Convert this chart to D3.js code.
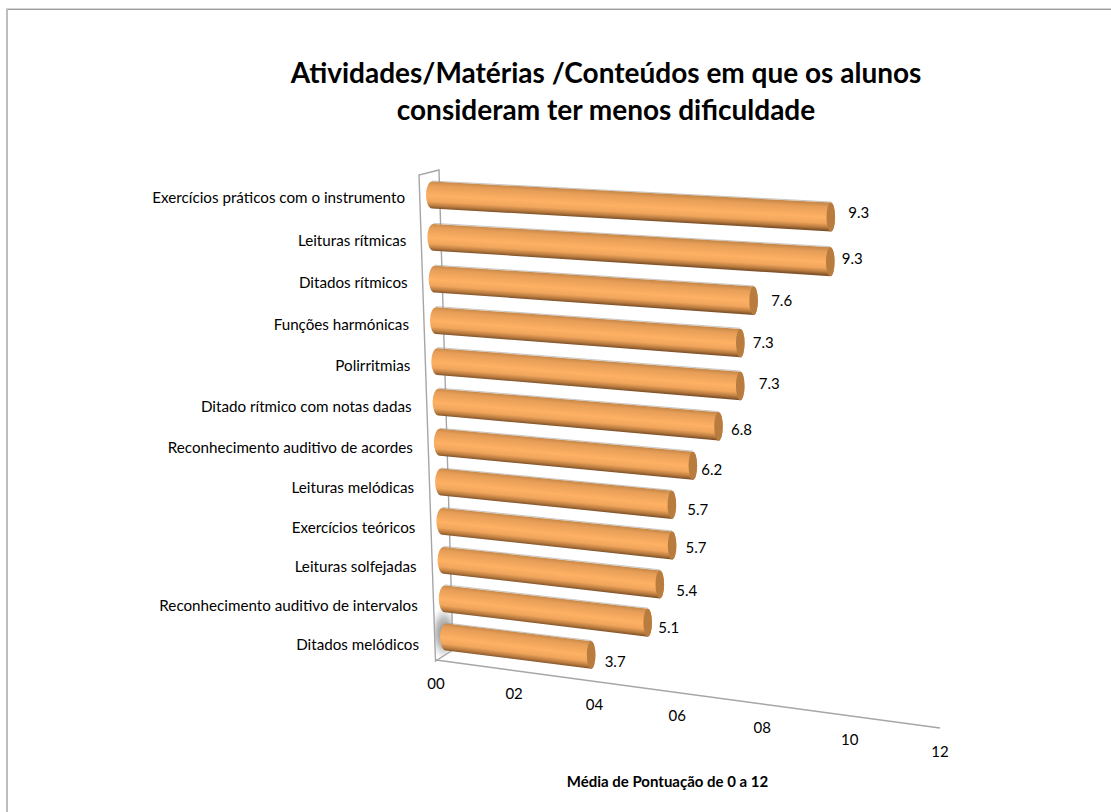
<!DOCTYPE html>
<html lang="pt">
<head>
<meta charset="utf-8">
<script src="https://cdnjs.cloudflare.com/ajax/libs/d3/7.8.5/d3.min.js"></script>
<style>
html,body{margin:0;padding:0;background:#fff}
svg{display:block}
text{font-family:Lato,"Open Sans",sans-serif;fill:#000}
</style>
</head>
<body>
<script>
// Activities ranked by mean score, top to bottom
const categories = [
  "Exercícios práticos com o instrumento",
  "Leituras rítmicas",
  "Ditados rítmicos",
  "Funções harmónicas",
  "Polirritmias",
  "Ditado rítmico com notas dadas",
  "Reconhecimento auditivo de acordes",
  "Leituras melódicas",
  "Exercícios teóricos",
  "Leituras solfejadas",
  "Reconhecimento auditivo de intervalos",
  "Ditados melódicos"
];
const values = [9.3, 9.3, 7.6, 7.3, 7.3, 6.8, 6.2, 5.7, 5.7, 5.4, 5.1, 3.7];
const ticks = [0, 2, 4, 6, 8, 10, 12];
const titleLines = [
  "Atividades/Matérias /Conteúdos em que os alunos",
  "consideram ter menos dificuldade"
];
const axisTitle = "Média de Pontuação de 0 a 12";

// Hand-placed nudges of the value labels away from each bar's cap
const labelDx = [28, 22, 28, 23, 29, 23, 19, 26, 24, 27, 21, 24];
const labelDy = [-3, -2, 1, 1, -1, 5, 5.5, 6, 4, 8, 6, 8];

const W = 1111, H = 812;
const svg = d3.select("body").append("svg").attr("width", W).attr("height", H);
const defs = svg.append("defs");

// Tilted 3D plot plane: rows run down the wall, values recede to the right
const rowScale = d3.scalePoint().domain(d3.range(categories.length)).range([0, 1]);
const valueScale = d3.scaleLinear().domain([0, 12]).range([0, 1]);
const recede = (t, w) => t / (t + w * (1 - t));
const warp = v => recede(valueScale(v), 1.09);
const warpRow = i => recede(rowScale(i), 0.945);
const leftX = d3.scaleLinear().domain([0, 1]).range([432, 446]);
const leftY = d3.scaleLinear().domain([0, 1]).range([195, 637]);
const rightX = d3.scaleLinear().domain([0, 1]).range([957, 946]);
const rightY = d3.scaleLinear().domain([0, 1]).range([224, 699]);
const labelY = d3.scaleLinear().domain([0, 1]).range([199, 646]);
const project = (v, r) => {
  const u = warp(v);
  return [leftX(r) + u * (rightX(r) - leftX(r)), leftY(r) + u * (rightY(r) - leftY(r))];
};
const axisX = d3.scaleLinear().domain([0, 1]).range([436, 940]);
const axisY = d3.scaleLinear().domain([0, 1]).range([660, 728]);
const line = d3.line();

// Chart frame: only the top and left edges show
const frame = svg.append("g").attr("fill", "none");
frame.append("path").attr("d", line([[6, 8.5], [W, 8.5]])).attr("stroke", "#d4d4d4");
frame.append("path").attr("d", line([[6, 9.5], [W, 9.5]])).attr("stroke", "#9c9c9c");
frame.append("path").attr("d", line([[7, 9], [7, H]])).attr("stroke", "#bdbdbd").attr("stroke-width", 2);

// Soft shadow on the wall behind the last bar
const wallOutline = [[453, 650], [439, 170], [419, 175], [435.5, 661]];
defs.append("clipPath").attr("id", "wallClip").append("path").attr("d", line(wallOutline) + "Z");
const shade = defs.append("radialGradient").attr("id", "wallShade");
shade.append("stop").attr("offset", "0%").attr("stop-color", "#777").attr("stop-opacity", 0.95);
shade.append("stop").attr("offset", "55%").attr("stop-color", "#a8a8a8").attr("stop-opacity", 0.7);
shade.append("stop").attr("offset", "100%").attr("stop-color", "#d0d0d0").attr("stop-opacity", 0);
svg.append("ellipse").attr("cx", 444).attr("cy", 633).attr("rx", 14).attr("ry", 27)
  .attr("fill", "url(#wallShade)").attr("clip-path", "url(#wallClip)");

// Wall and floor outline
const wall = svg.append("g").attr("fill", "none").attr("stroke", "#a6a6a6").attr("stroke-width", 1.4);
wall.append("path").attr("d", line([...wallOutline, wallOutline[0]]));
wall.append("path").attr("d", line([[axisX(0), axisY(0)], [axisX(1), axisY(1)]]));

// Bars: a shaded cylinder with a darker cap, drawn from the top row down
const radiusScale = d3.scaleLinear().domain([0, 1]).range([13.4, 14.8]);
const capRx = 4.3, tailRx = 6;
const bars = svg.append("g");
categories.forEach((c, i) => {
  const r = warpRow(i), v = values[i];
  const [x0, y0] = project(0, r), [x1, y1] = project(v, r);
  const r0 = radiusScale(0), r1 = radiusScale(warp(v));
  const grad = defs.append("linearGradient").attr("id", "bar" + i)
    .attr("gradientUnits", "userSpaceOnUse")
    .attr("x1", x0).attr("y1", y0 - r0)
    .attr("x2", x0 - (y1 - y0) / (x1 - x0) * 2 * r0).attr("y2", y0 + r0);
  [[0, "#c98a4a"], [0.14, "#e69d57"], [0.52, "#feb163"], [0.74, "#f0a55c"], [0.9, "#b87a3e"], [1, "#80532a"]]
    .forEach(([o, col]) => grad.append("stop").attr("offset", o).attr("stop-color", col));
  // Grey rim along the upper edge of the bar
  bars.append("path")
    .attr("d", line([[x0, y0 - r0 - 0.6], [x1, y1 - r1 - 0.6]]))
    .attr("stroke", "#9a9a9a").attr("stroke-width", 1).attr("opacity", 0.55);
  const body = `M${x0},${y0 - r0}L${x1},${y1 - r1}A${capRx},${r1} 0 0 1 ${x1},${y1 + r1}` +
    `L${x0},${y0 + r0}A${tailRx},${r0} 0 0 1 ${x0},${y0 - r0}Z`;
  bars.append("path").attr("d", body).attr("fill", `url(#bar${i})`);
  bars.append("ellipse").attr("cx", x1).attr("cy", y1).attr("rx", capRx).attr("ry", r1).attr("fill", "#b87c3e");
  // Value beside the cap
  svg.append("text").attr("x", x1 + labelDx[i]).attr("y", y1 + labelDy[i]).attr("text-anchor", "middle")
    .attr("dominant-baseline", "middle").attr("font-size", 15).text(d3.format(".1f")(v));
  // Category name left of the wall
  svg.append("text").attr("x", x0 - 27).attr("y", labelY(r)).attr("text-anchor", "end")
    .attr("dominant-baseline", "middle").attr("font-size", 15.2).text(c);
});

// Tick labels sit below the receding axis
ticks.forEach(t => {
  const u = warp(t);
  svg.append("text").attr("x", axisX(u)).attr("y", axisY(u) + 25).attr("text-anchor", "middle")
    .attr("dominant-baseline", "middle").attr("font-size", 15).text(d3.format("02d")(t));
});

// Titles
titleLines.forEach((l, i) => {
  svg.append("text").attr("x", 606).attr("y", 83 + i * 36.5).attr("text-anchor", "middle")
    .attr("font-size", 28).attr("font-weight", 700).text(l);
});
svg.append("text").attr("x", 667.5).attr("y", 787).attr("text-anchor", "middle")
  .attr("font-size", 15).attr("font-weight", 700).text(axisTitle);
</script>
</body>
</html>
